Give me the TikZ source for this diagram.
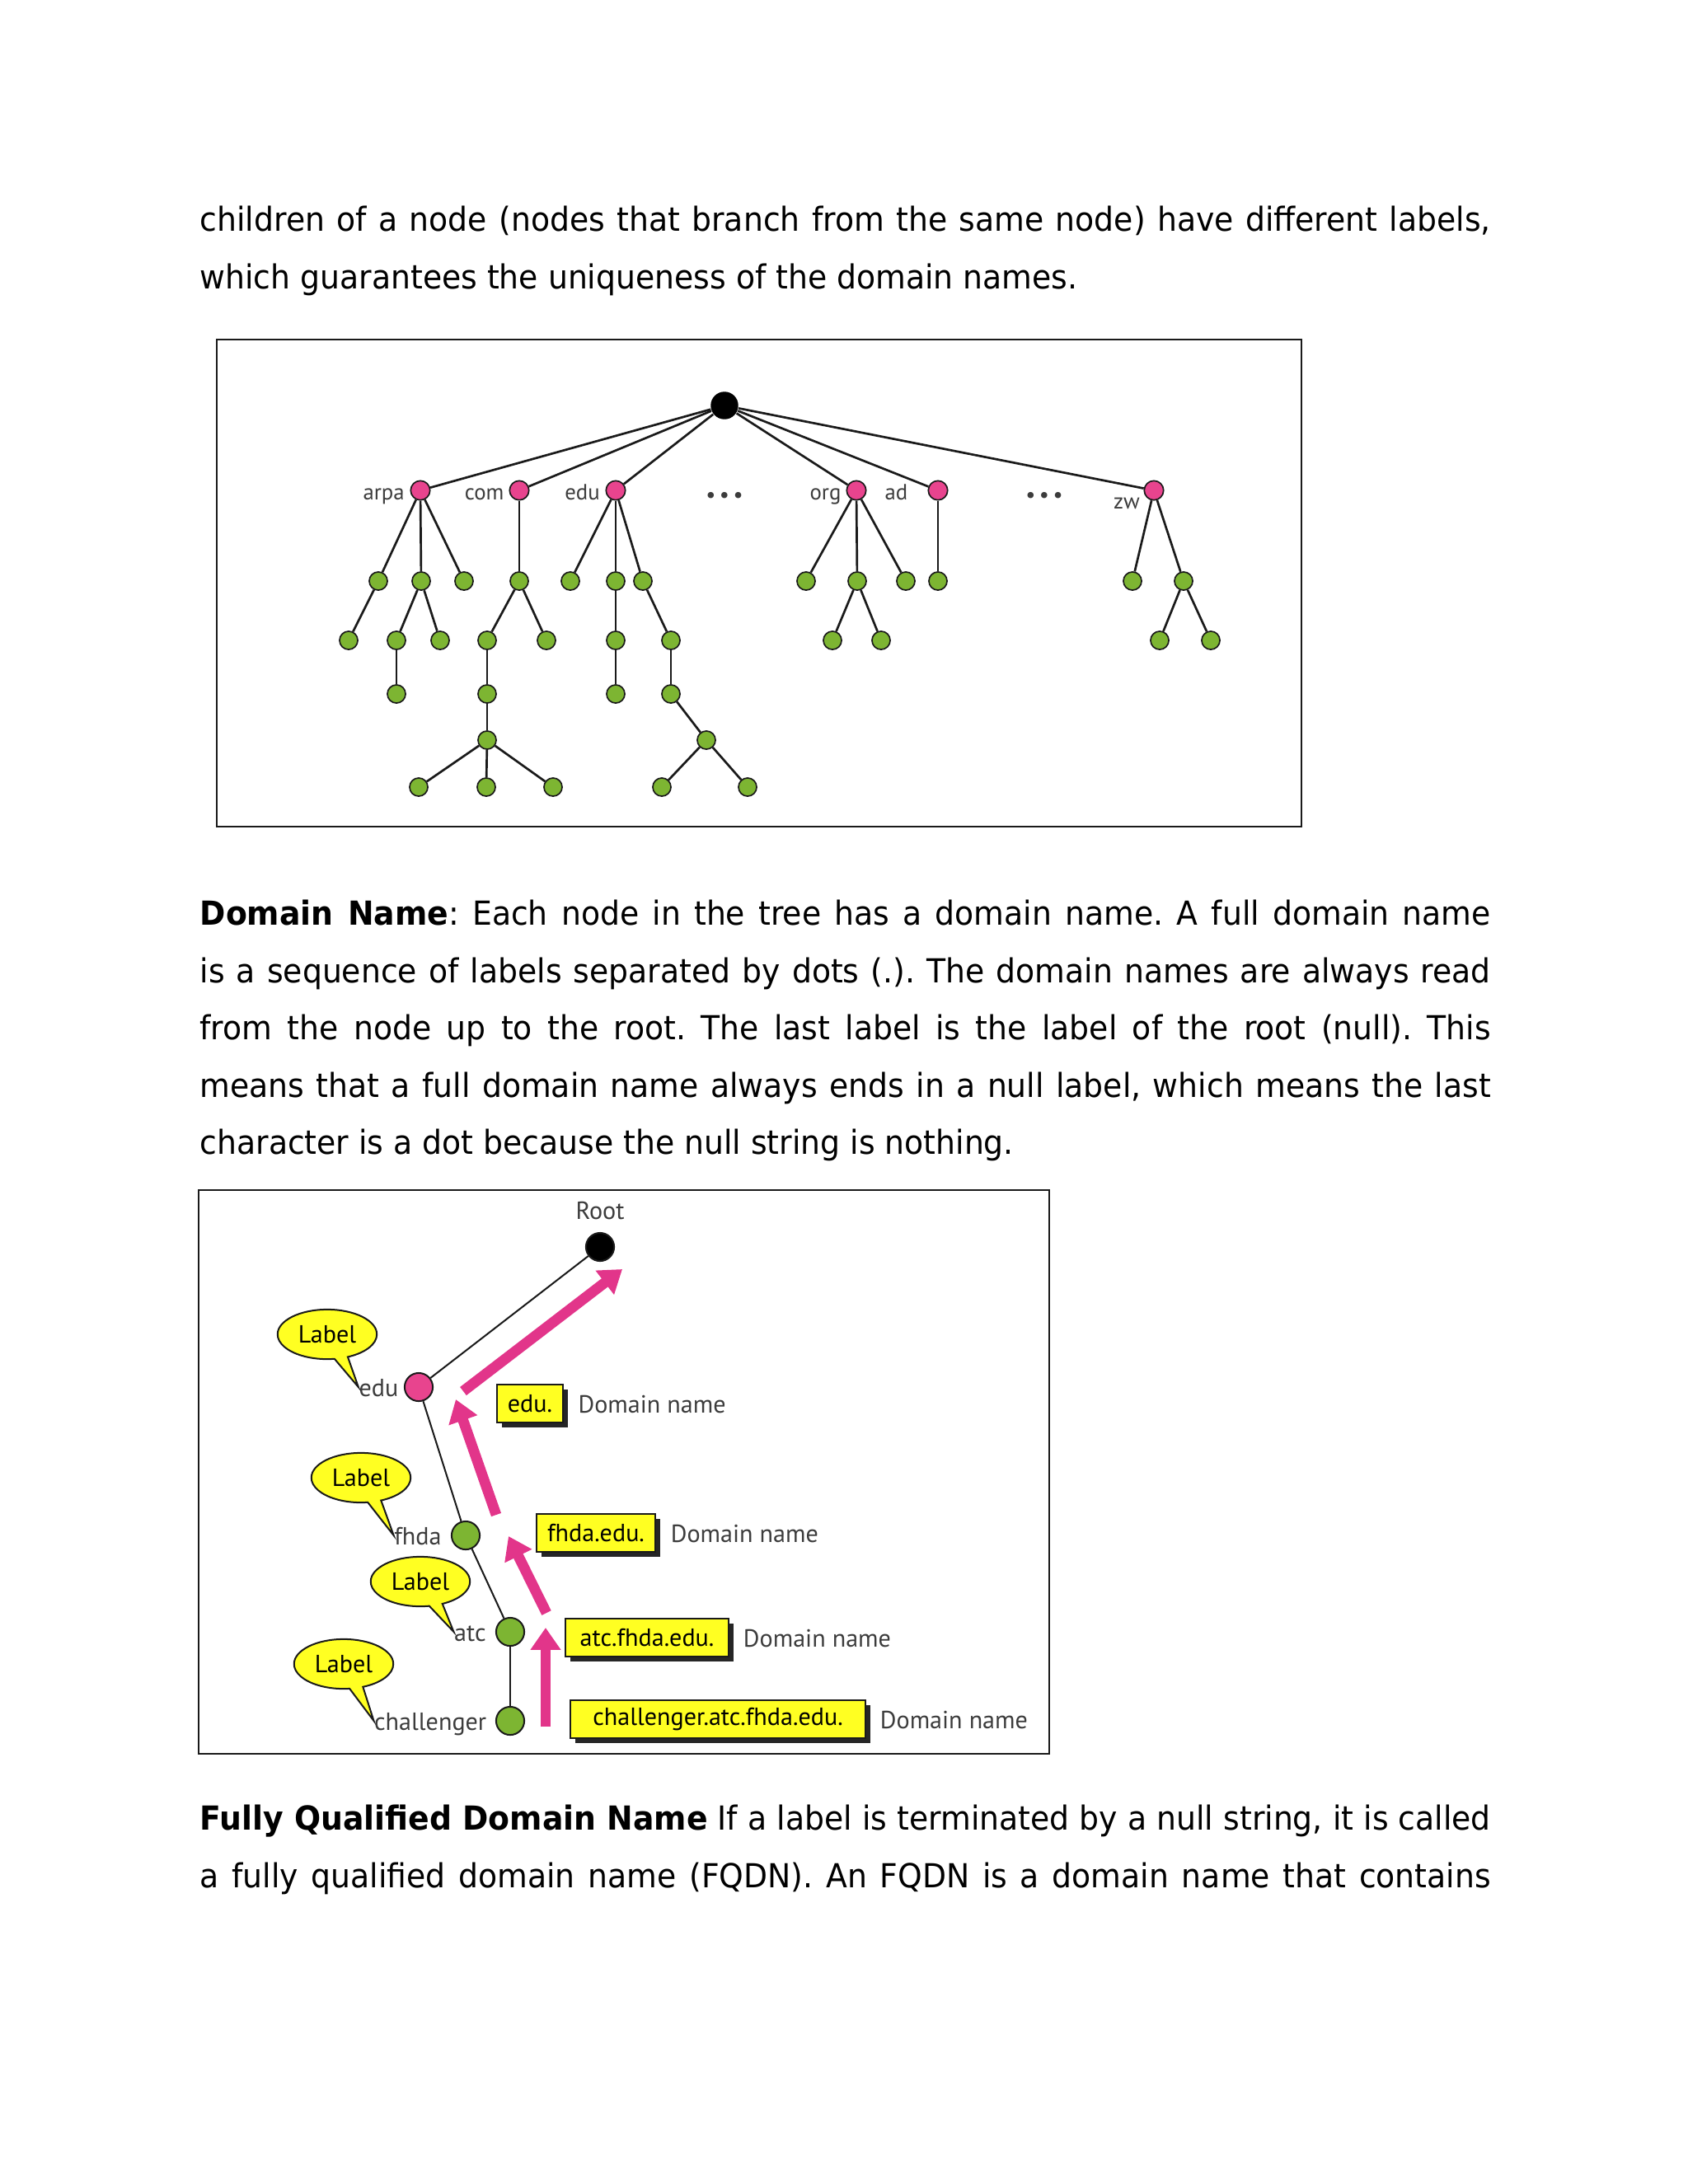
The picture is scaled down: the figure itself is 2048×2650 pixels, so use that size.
\documentclass[tikz,border=0pt]{standalone}
\usepackage{fontspec}
\setmainfont[FakeStretch=0.94]{DejaVu Sans}
\newfontfamily\figfont{PT Sans}
\usepackage{tikz}
\usetikzlibrary{arrows.meta,positioning,shapes.callouts,shadows}
\definecolor{ink}{HTML}{1A1A1A}
\definecolor{rose}{HTML}{E8448E}
\definecolor{leaf}{HTML}{7DB532}
\definecolor{lemon}{HTML}{FFFF22}
\definecolor{hopink}{HTML}{E2358A}
\newcommand\bodyfont{\fontsize{12}{20.75}\selectfont\frenchspacing\hyphenpenalty=10000}
\newcommand\figsmall{\figfont\fontsize{8}{9}\selectfont}
\newcommand\figtext{\figfont\fontsize{9}{10}\selectfont}

\begin{document}
\begin{tikzpicture}[
  x=0.29883pt, y=-0.29883pt,
  para/.style={anchor=north west,inner sep=0,text width=468pt,align=justify,font=\bodyfont},
  panel/.style={draw=ink,line width=0.7pt},
  rootdot/.style={circle,fill=black,minimum size=10pt,inner sep=0},
  tld/.style={circle,draw=ink,fill=rose,line width=0.5pt,minimum size=7pt,inner sep=0},
  host/.style={circle,draw=ink,fill=leaf,line width=0.5pt,minimum size=6.6pt,inner sep=0},
  tag/.style={font=\figsmall,inner sep=0,text height=1.5ex,text depth=.25ex,text=ink!85},
  branch/.style={draw=ink,line width=0.8pt},
  bigdot/.style={circle,draw=ink,line width=0.6pt,minimum size=10.2pt,inner sep=0},
  link/.style={draw=ink,line width=0.6pt},
  note/.style={font=\figtext,inner sep=0,text height=1.5ex,text depth=.25ex,text=ink!85},
  bubble/.style={ellipse callout,draw=ink,fill=lemon,line width=0.6pt,minimum width=36pt,minimum height=18pt,inner sep=0,callout pointer arc=16,font=\figtext},
  namebox/.style={draw=ink,fill=lemon,line width=0.6pt,minimum height=14pt,inner sep=0,font=\figtext,
    drop shadow={shadow xshift=1.8pt,shadow yshift=-1.8pt,fill=black!85,opacity=1}},
  hop/.style={draw=hopink,line width=3.8pt,-{Triangle[width=10.5pt,length=8pt]}}
]
\fill[white] (0,0) rectangle (2048,2650);
\useasboundingbox (0,0) rectangle (2048,2650);

% text above the tree
\node[para] (intro) at (242,249.5) {children of a node (nodes that branch from the same node) have different labels,\linebreak which guarantees the uniqueness of the domain names.};

% domain name space
\draw[panel] (263,412) rectangle (1579,1003);
\node[rootdot] (root) at (879,492) {};
\node[tld] (arpa) at (510,595) {};
\node[tld] (com) at (630,595) {};
\node[tld] (edu) at (747,595) {};
\node[tld] (org) at (1039,595) {};
\node[tld] (ad) at (1138,595) {};
\node[tld] (zw) at (1400,595) {};
\node[tag,left=1.8pt of arpa] (arpaTxt) {arpa};
\node[tag,left=1.6pt of com] (comTxt) {com};
\node[tag,left=1.8pt of edu] (eduTxt) {edu};
\node[tag,left=1.6pt of org] (orgTxt) {org};
\node[tag,left=7pt of ad] (adTxt) {ad};
\node[tag] (zwTxt) at (1367,606) {zw};
\node[tag] (gapA) at (879,598) {\textbullet\,\textbullet\,\textbullet};
\node[tag] (gapB) at (1267,598) {\textbullet\,\textbullet\,\textbullet};
\foreach \t in {arpa,com,edu,org,ad,zw} \draw[branch] (root) -- (\t);

\node[host] (a1) at (459,705) {};
\node[host] (a2) at (511,705) {};
\node[host] (a3) at (563,705) {};
\node[host] (c1) at (630,705) {};
\node[host] (e1) at (692,705) {};
\node[host] (e2) at (747,705) {};
\node[host] (e3) at (780,705) {};
\node[host] (o1) at (978,705) {};
\node[host] (o2) at (1040,705) {};
\node[host] (o3) at (1099,705) {};
\node[host] (d1) at (1138,705) {};
\node[host] (z1) at (1374,705) {};
\node[host] (z2) at (1436,705) {};
\node[host] (a11) at (423,777) {};
\node[host] (a21) at (481,777) {};
\node[host] (a22) at (534,777) {};
\node[host] (c11) at (591,777) {};
\node[host] (c12) at (663,777) {};
\node[host] (e21) at (747,777) {};
\node[host] (e31) at (814,777) {};
\node[host] (o21) at (1010,777) {};
\node[host] (o22) at (1069,777) {};
\node[host] (z21) at (1407,777) {};
\node[host] (z22) at (1469,777) {};
\node[host] (a211) at (481,842) {};
\node[host] (c111) at (591,842) {};
\node[host] (e211) at (747,842) {};
\node[host] (e311) at (814,842) {};
\node[host] (c1111) at (591,898) {};
\node[host] (e3111) at (857,898) {};
\node[host] (cx1) at (508,955) {};
\node[host] (cx2) at (590,955) {};
\node[host] (cx3) at (671,955) {};
\node[host] (ex1) at (803,955) {};
\node[host] (ex2) at (907,955) {};
\foreach \p/\c in {arpa/a1,arpa/a2,arpa/a3,com/c1,edu/e1,edu/e2,edu/e3,org/o1,org/o2,org/o3,ad/d1,zw/z1,zw/z2,
  a1/a11,a2/a21,a2/a22,c1/c11,c1/c12,e2/e21,e3/e31,o2/o21,o2/o22,z2/z21,z2/z22,
  a21/a211,c11/c111,e21/e211,e31/e311,c111/c1111,e311/e3111,
  c1111/cx1,c1111/cx2,c1111/cx3,e3111/ex1,e3111/ex2}
  \draw[branch] (\p) -- (\c);

% domain name paragraph
\node[para] (domain) at (242,1091.5) {\textbf{Domain Name}: Each node in the tree has a domain name. A full domain name\linebreak is a sequence of labels separated by dots (.). The domain names are always read\linebreak from the node up to the root. The last label is the label of the root (null). This\linebreak means that a full domain name always ends in a null label, which means the last\linebreak character is a dot because the null string is nothing.};

% reading a domain name
\draw[panel] (241,1444) rectangle (1273,2128);
\node[bigdot,fill=black] (rootB) at (728,1513) {};
\node[bigdot,fill=rose] (eduB) at (508,1683) {};
\node[bigdot,fill=leaf] (fhdaB) at (565,1863) {};
\node[bigdot,fill=leaf] (atcB) at (619,1980) {};
\node[bigdot,fill=leaf] (challB) at (619,2088) {};
\draw[link] (rootB) -- (eduB);
\draw[link] (eduB) -- (fhdaB);
\draw[link] (fhdaB) -- (atcB);
\draw[link] (atcB) -- (challB);
\node[note,above=3pt of rootB] (rootTxt) {Root};
\node[note,left=1.8pt of eduB] (eduName) {edu};
\node[note,left=3.2pt of fhdaB] (fhdaName) {fhda};
\node[note,left=3.2pt of atcB] (atcName) {atc};
\node[note,left=3pt of challB] (challName) {challenger};

\node[bubble,callout absolute pointer={(eduName.west)}] (tipA) at (397,1619) {Label};
\node[bubble,callout absolute pointer={(fhdaName.west)}] (tipB) at (438,1793) {Label};
\node[bubble,callout absolute pointer={(atcName.west)}] (tipC) at (510,1919) {Label};
\node[bubble,callout absolute pointer={(challName.west)}] (tipD) at (417,2019) {Label};

\coordinate (h1s) at (562,1688);
\coordinate (h1e) at (755,1540);
\coordinate (h2s) at (602,1838);
\coordinate (h2e) at (553,1698);
\coordinate (h3s) at (663,1957);
\coordinate (h3e) at (617,1864);
\coordinate (h4s) at (662,2095);
\coordinate (h4e) at (662,1975);
\draw[hop] (h1s) -- (h1e);
\draw[hop] (h2s) -- (h2e);
\draw[hop] (h3s) -- (h3e);
\draw[hop] (h4s) -- (h4e);

\node[namebox,minimum width=24pt] (eduBox) at (643,1703) {edu.};
\node[namebox,minimum width=43.3pt] (fhdaBox) at (723,1860) {fhda.edu.};
\node[namebox,minimum width=58.9pt] (atcBox) at (785,1987) {atc.fhda.edu.};
\node[namebox,minimum width=106.7pt] (challBox) at (871,2086) {challenger.atc.fhda.edu.};
\node[note,right=5pt of eduBox] (eduNote) {Domain name};
\node[note,right=5pt of fhdaBox] (fhdaNote) {Domain name};
\node[note,right=5pt of atcBox] (atcNote) {Domain name};
\node[note,right=5pt of challBox] (challNote) {Domain name};

% fully qualified domain name
\node[para] (fqdn) at (242,2189.5) {\parfillskip=0pt \textbf{Fully Qualified Domain Name} If a label is terminated by a null string, it is called\linebreak a fully qualified domain name (FQDN). An FQDN is a domain name that contains\par};
\end{tikzpicture}
\end{document}
